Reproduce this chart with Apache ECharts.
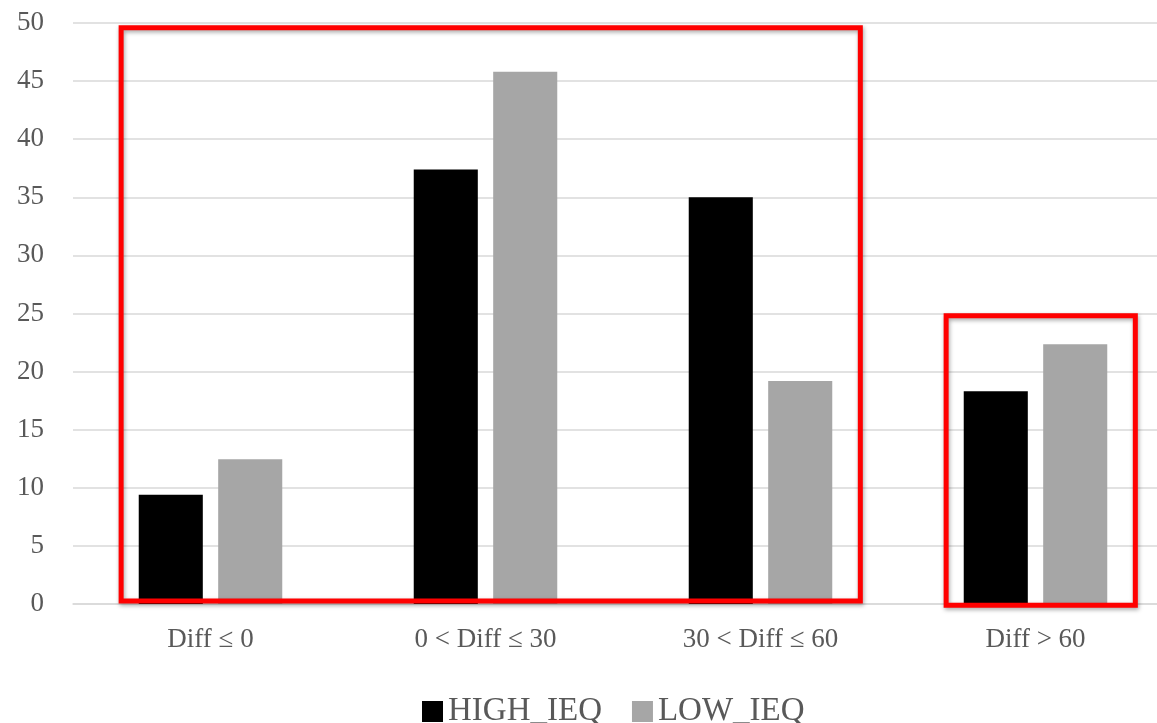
<!DOCTYPE html>
<html>
<head>
<meta charset="utf-8">
<script src="https://cdn.jsdelivr.net/npm/echarts@6/dist/echarts.min.js"></script>
<style>html,body{margin:0;padding:0;background:#fff;}#c{width:1157px;height:723px;}</style>
</head>
<body>
<div id="c"></div>
<script>
const categories = ['Diff ≤ 0', '0 < Diff ≤ 30', '30 < Diff ≤ 60', 'Diff > 60'];
const highIEQ = [9.4, 37.4, 35.0, 18.3];
const lowIEQ = [12.45, 45.8, 19.2, 22.35];
const yTicks = {min: 0, max: 50, interval: 5};
// Highlight boxes in data units: category index range and value range
const boxFrom = [0, 3];
const boxTo = [2, 3];
const boxTop = [49.6, 24.8];
const boxBottom = [0.26, -0.1];

const font = 'Liberation Serif, Times New Roman, serif';
const chart = echarts.init(document.getElementById('c'));
chart.setOption({
  animation: false,
  backgroundColor: '#fff',
  grid: {left: 73, top: 23, width: 1100, height: 581, outerBoundsMode: 'none', containLabel: false},
  legend: {
    top: 690, left: 417,
    itemWidth: 21, itemHeight: 21, itemGap: 30,
    icon: 'rect',
    textStyle: {fontFamily: font, fontSize: 33, color: '#595959'},
    data: ['HIGH_IEQ', 'LOW_IEQ']
  },
  xAxis: {
    type: 'category', data: categories,
    axisLine: {lineStyle: {color: '#d9d9d9', width: 1.5}},
    axisTick: {show: false},
    axisLabel: {fontFamily: font, fontSize: 27, color: '#595959', margin: 22}
  },
  yAxis: {
    type: 'value', min: yTicks.min, max: yTicks.max, interval: yTicks.interval,
    axisLine: {show: false}, axisTick: {show: false},
    splitLine: {lineStyle: {color: '#d9d9d9', width: 1.5}},
    axisLabel: {fontFamily: font, fontSize: 27, color: '#595959', margin: 29}
  },
  series: [
    {name: 'HIGH_IEQ', type: 'bar', data: highIEQ, barWidth: '23.3%', barGap: '24%',
     itemStyle: {color: '#000000'}},
    {name: 'LOW_IEQ', type: 'bar', data: lowIEQ, barWidth: '23.3%',
     itemStyle: {color: '#a6a6a6'}}
  ]
});

function drawBoxes() {
  const c0 = chart.convertToPixel({xAxisIndex: 0}, 0);
  const c1 = chart.convertToPixel({xAxisIndex: 0}, 1);
  const band = c1 - c0;
  const els = boxFrom.map((f, i) => {
    const x1 = chart.convertToPixel({xAxisIndex: 0}, f) - 0.325 * band;
    const x2 = chart.convertToPixel({xAxisIndex: 0}, boxTo[i]) + 0.363 * band;
    const y1 = chart.convertToPixel({yAxisIndex: 0}, boxTop[i]);
    const y2 = chart.convertToPixel({yAxisIndex: 0}, boxBottom[i]);
    return {
      type: 'rect', z: 100,
      shape: {x: x1, y: y1, width: x2 - x1, height: y2 - y1},
      style: {fill: null, stroke: '#ff0000', lineWidth: 5,
        shadowBlur: 4, shadowColor: 'rgba(0,0,0,0.35)', shadowOffsetX: 1, shadowOffsetY: 2}
    };
  });
  chart.setOption({graphic: els});
}
drawBoxes();
</script>
</body>
</html>
